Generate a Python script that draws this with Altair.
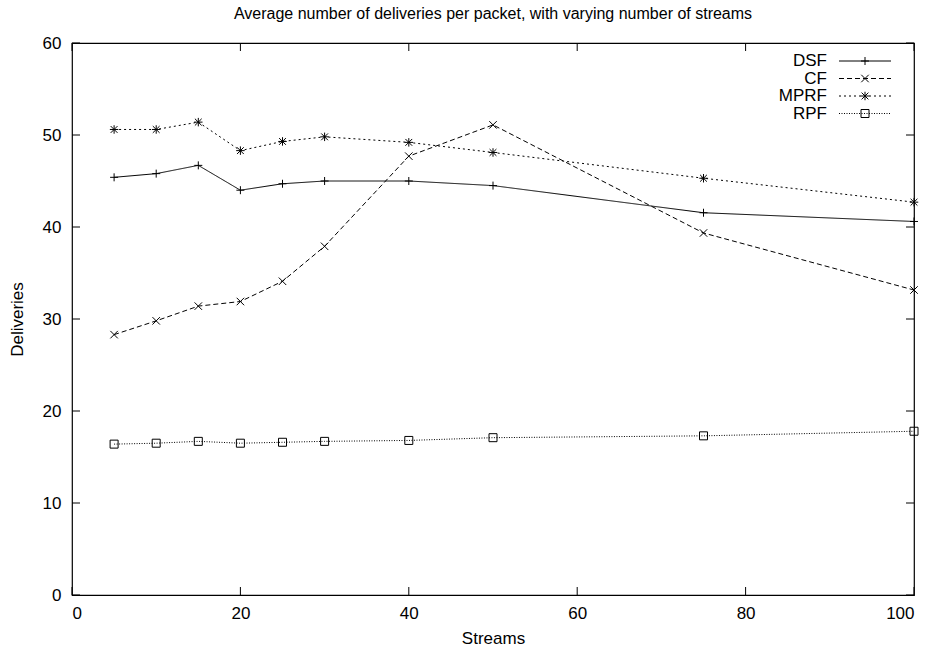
import altair as alt
import pandas as pd

# ---- data ----
streams = [5, 10, 15, 20, 25, 30, 40, 50, 75, 100]
dsf = [45.4, 45.8, 46.7, 44.0, 44.7, 45.0, 45.0, 44.5, 41.55, 40.6]
cf = [28.3, 29.8, 31.4, 31.9, 34.1, 37.9, 47.7, 51.1, 39.35, 33.15]
mprf = [50.6, 50.6, 51.4, 48.3, 49.3, 49.8, 49.2, 48.1, 45.3, 42.7]
rpf = [16.4, 16.5, 16.7, 16.5, 16.6, 16.7, 16.8, 17.1, 17.3, 17.8]
series_names = ["DSF", "CF", "MPRF", "RPF"]
x_ticks = [0, 20, 40, 60, 80, 100]
y_ticks = [0, 10, 20, 30, 40, 50, 60]

W, H = 842, 552
FONT = "Liberation Sans"

PLUS = "M-1,0H1M0,-1V1"
XSHAPE = "M-1,-1L1,1M-1,1L1,-1"
STAR = "M-1,0H1M0,-1V1M-0.8,-0.8L0.8,0.8M-0.8,0.8L0.8,-0.8"
styles = {
    "DSF": dict(values=dsf, dash=[1, 0], shape=PLUS, size=64),
    "CF": dict(values=cf, dash=[5, 3], shape=XSHAPE, size=56),
    "MPRF": dict(values=mprf, dash=[2, 3], shape=STAR, size=72),
    "RPF": dict(values=rpf, dash=[1, 1.5], shape="square", size=64),
}

xscale = alt.Scale(domain=[0, 100], nice=False, zero=False)
yscale = alt.Scale(domain=[0, 60], nice=False, zero=False)
xaxis = alt.Axis(values=x_ticks, ticks=False, tickSize=0, domain=False, grid=False,
                 labelPadding=10, labelFont=FONT, labelFontSize=17, labelColor="black",
                 titleFont=FONT, titleFontSize=17, titleFontWeight="normal", titleColor="black",
                 titleX=W / 2, titleY=43, titleBaseline="middle", titleAlign="center")
yaxis = alt.Axis(values=y_ticks, ticks=False, tickSize=0, domain=False, grid=False,
                 labelPadding=11, labelFont=FONT, labelFontSize=17, labelColor="black",
                 titleFont=FONT, titleFontSize=17, titleFontWeight="normal", titleColor="black",
                 titleX=-55, titleY=H / 2, titleBaseline="middle", titleAlign="center", titleAngle=-90)
xenc = alt.X("x:Q", scale=xscale, axis=xaxis, title="Streams")
yenc = alt.Y("y:Q", scale=yscale, axis=yaxis, title="Deliveries")

layers = []
for name in series_names:
    st = styles[name]
    df = pd.DataFrame({"x": streams, "y": st["values"]})
    layers.append(alt.Chart(df).mark_line(color="black", strokeWidth=1, strokeDash=st["dash"])
                  .encode(x=xenc, y=yenc))
    layers.append(alt.Chart(df).mark_point(shape=st["shape"], filled=False, color="black",
                                           strokeWidth=1, size=st["size"], opacity=1)
                  .encode(x=xenc, y=yenc))

# inward ticks on all four sides
xt = pd.DataFrame({"x": x_ticks})
yt = pd.DataFrame({"y": y_ticks})
TL = 8
layers.append(alt.Chart(xt).mark_rule(color="black", strokeWidth=1)
              .encode(x=xenc, y=alt.value(H), y2=alt.value(H - TL)))
layers.append(alt.Chart(xt).mark_rule(color="black", strokeWidth=1)
              .encode(x=xenc, y=alt.value(0), y2=alt.value(TL)))
layers.append(alt.Chart(yt).mark_rule(color="black", strokeWidth=1)
              .encode(y=yenc, x=alt.value(0), x2=alt.value(TL)))
layers.append(alt.Chart(yt).mark_rule(color="black", strokeWidth=1)
              .encode(y=yenc, x=alt.value(W), x2=alt.value(W - TL)))

# manual gnuplot-style legend (top right, inside)
for i, name in enumerate(series_names):
    st = styles[name]
    ly = 18 + 17.5 * i
    ldf = pd.DataFrame({"name": [name]})
    layers.append(alt.Chart(ldf).mark_text(align="right", baseline="middle", font=FONT,
                                           fontSize=17, color="black")
                  .encode(text="name:N", x=alt.value(755), y=alt.value(ly)))
    layers.append(alt.Chart(ldf).mark_rule(color="black", strokeWidth=1, strokeDash=st["dash"])
                  .encode(x=alt.value(767), x2=alt.value(819), y=alt.value(ly)))
    layers.append(alt.Chart(ldf).mark_point(shape=st["shape"], filled=False, color="black",
                                            strokeWidth=1, size=st["size"], opacity=1)
                  .encode(x=alt.value(793), y=alt.value(ly)))

chart = alt.layer(*layers).properties(
    width=W, height=H,
    title=alt.TitleParams("Average number of deliveries per packet, with varying number of streams",
                          font=FONT, fontSize=16, fontWeight="normal", color="black",
                          anchor="middle", offset=12),
    autosize=alt.AutoSizeParams(type="none"),
    padding={"left": 72, "top": 43, "right": 16, "bottom": 54},
    background="white",
).configure_view(stroke="black", strokeWidth=1.2)

chart.save("out.html", embed_options={"renderer": "svg", "actions": False})
